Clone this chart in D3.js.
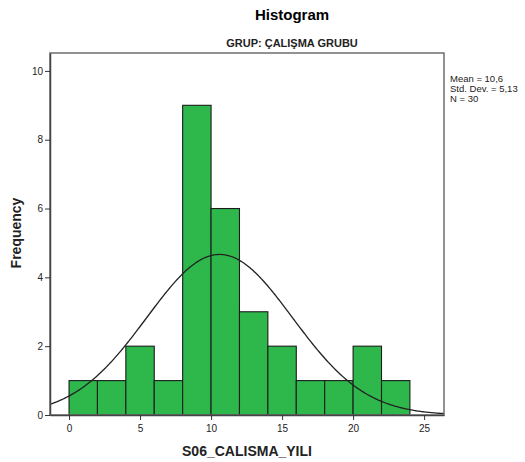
<!DOCTYPE html>
<html>
<head>
<meta charset="utf-8">
<script src="https://cdn.jsdelivr.net/npm/d3@7"></script>
<style>
  body { margin: 0; background: #fff; }
  text { font-family: Arial, "Liberation Sans", sans-serif; }
</style>
</head>
<body>
<svg id="chart"></svg>
<script>
const binStarts = [0, 2, 4, 6, 8, 10, 12, 14, 16, 18, 20, 22];
const binWidth = 2;
const counts = [1, 1, 2, 1, 9, 6, 3, 2, 1, 1, 2, 1];
const xTicks = [0, 5, 10, 15, 20, 25];
const yTicks = [0, 2, 4, 6, 8, 10];
const statLines = ['Mean = 10,6', 'Std. Dev. = 5,13', 'N = 30'];
const mean = 10.6;
const sd = 5.13;
const n = 30;

const width = 525, height = 462;
const margin = { top: 53, right: 81, bottom: 47, left: 50 };

const svg = d3.select('#chart').attr('width', width).attr('height', height);

const x = d3.scaleLinear().domain([-1.34, 26.4]).range([margin.left, width - margin.right]);
const y = d3.scaleLinear().domain([0, 10.52]).range([height - margin.bottom, margin.top]);

svg.append('clipPath').attr('id', 'plot-clip')
  .append('rect')
  .attr('x', margin.left).attr('y', margin.top)
  .attr('width', width - margin.left - margin.right)
  .attr('height', height - margin.top - margin.bottom);

// bars
svg.append('g')
  .selectAll('rect')
  .data(binStarts)
  .join('rect')
  .attr('x', d => x(d))
  .attr('y', (d, i) => y(counts[i]))
  .attr('width', d => x(d + binWidth) - x(d))
  .attr('height', (d, i) => y(0) - y(counts[i]))
  .attr('fill', '#2eb84c')
  .attr('stroke', '#1c1c1c')
  .attr('stroke-width', 1.1);

// fitted normal curve, scaled to counts
const scaleK = n * binWidth / (sd * Math.sqrt(2 * Math.PI));
const curvePts = d3.range(0, 301).map(i => {
  const v = x.domain()[0] + (x.domain()[1] - x.domain()[0]) * i / 300;
  return [v, scaleK * Math.exp(-0.5 * ((v - mean) / sd) ** 2)];
});
svg.append('path')
  .datum(curvePts)
  .attr('clip-path', 'url(#plot-clip)')
  .attr('fill', 'none')
  .attr('stroke', '#222')
  .attr('stroke-width', 1.3)
  .attr('d', d3.line().x(d => x(d[0])).y(d => y(d[1])).curve(d3.curveBasis));

// frame
svg.append('rect')
  .attr('x', margin.left).attr('y', margin.top)
  .attr('width', width - margin.left - margin.right)
  .attr('height', height - margin.top - margin.bottom)
  .attr('fill', 'none')
  .attr('stroke', '#6e6e6e')
  .attr('stroke-width', 1.5);

// axes
const xAxis = svg.append('g')
  .attr('transform', `translate(0,${y(0)})`)
  .call(d3.axisBottom(x).tickValues(xTicks).tickSize(5).tickSizeOuter(0));
const yAxis = svg.append('g')
  .attr('transform', `translate(${margin.left},0)`)
  .call(d3.axisLeft(y).tickValues(yTicks).tickSize(5).tickSizeOuter(0));

[xAxis, yAxis].forEach(a => {
  a.select('.domain').attr('stroke', '#444').attr('stroke-width', 1.5);
  a.selectAll('.tick line').attr('stroke', '#333').attr('stroke-width', 1);
  a.selectAll('.tick text')
    .attr('fill', '#222')
    .style('font-size', '10px')
    .style('font-family', 'Arial, "Liberation Sans", sans-serif');
});
xAxis.selectAll('.tick text').attr('dy', '0.9em');
yAxis.selectAll('.tick text').attr('x', -7);

// titles
svg.append('text')
  .attr('x', 292).attr('y', 20)
  .attr('text-anchor', 'middle')
  .attr('font-weight', 'bold')
  .attr('font-size', '15px')
  .text('Histogram');

svg.append('text')
  .attr('x', 292).attr('y', 47)
  .attr('text-anchor', 'middle')
  .attr('font-weight', 'bold')
  .attr('font-size', '11px')
  .attr('fill', '#222')
  .text('GRUP: ÇALIŞMA GRUBU');

svg.append('text')
  .attr('x', 247).attr('y', 456)
  .attr('text-anchor', 'middle')
  .attr('font-weight', 'bold')
  .attr('font-size', '14px')
  .attr('fill', '#222')
  .text('S06_CALISMA_YILI');

svg.append('text')
  .attr('transform', 'translate(21,233) rotate(-90)')
  .attr('text-anchor', 'middle')
  .attr('font-weight', 'bold')
  .attr('font-size', '14px')
  .attr('fill', '#222')
  .text('Frequency');

// stats box
svg.append('g')
  .selectAll('text')
  .data(statLines)
  .join('text')
  .attr('x', 450)
  .attr('y', (d, i) => 82 + i * 10)
  .attr('font-size', '9.5px')
  .attr('fill', '#222')
  .text(d => d);
</script>
</body>
</html>
